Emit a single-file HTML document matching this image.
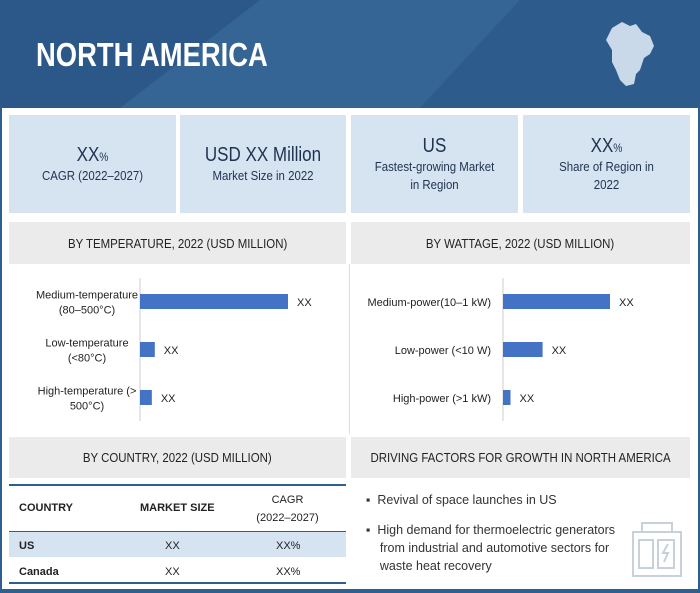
<!DOCTYPE html>
<html><head><meta charset="utf-8">
<style>
body{margin:0;width:700px;height:593px;overflow:hidden;background:#fff;font-family:"Liberation Sans Narrow","Liberation Sans",sans-serif;}
.abs{position:absolute;}
#frame{position:absolute;left:0;top:0;width:700px;height:593px;}
.card{position:absolute;top:115px;height:98px;background:#d6e3f0;text-align:center;color:#1f3250;display:flex;flex-direction:column;justify-content:center;}
.big{font-size:20px;transform:scaleX(.85);}
.sm{font-size:13px;transform:scaleX(.88);line-height:18px;}
.hdr{position:absolute;background:#ebebeb;color:#222;font-size:13px;display:flex;align-items:center;justify-content:center;}
.hdr span{transform:scaleX(.88);display:inline-block;white-space:nowrap;}
.t{position:absolute;font-size:11px;color:#222;line-height:14px;}
</style></head><body>
<div id="frame">
<svg class="abs" style="left:0;top:0" width="700" height="108">
<rect width="700" height="108" fill="#2f5f8f"/>
<polygon points="0,0 260,0 120,108 0,108" fill="#2b5889"/>
<polygon points="260,0 520,0 420,108 120,108" fill="#346595"/>
<polygon points="520,0 700,0 700,108 420,108" fill="#2d5b8c"/>
<path d="M612,28 l10,-6 8,4 6,-2 6,8 8,4 4,10 -4,8 -6,4 -4,12 -4,4 -2,10 -8,2 -6,-6 -4,-10 -4,-8 0,-12 -6,-10z" fill="#c9d9ea"/>
</svg>
<div class="abs" style="left:36px;top:36px;color:#fff;font-size:33px;font-weight:bold;transform:scaleX(.83);transform-origin:left;">NORTH AMERICA</div>
<div class="abs" style="left:0;top:106px;width:2px;height:487px;background:#2f5f8f"></div>
<div class="abs" style="left:698px;top:106px;width:2px;height:487px;background:#2f5f8f"></div>
<div class="abs" style="left:0;top:589px;width:700px;height:4px;background:#2f5f8f"></div>

<div class="card" style="left:9px;width:167px"><div class="big">XX<span style="font-size:12px">%</span></div><div class="sm">CAGR (2022–2027)</div></div>
<div class="card" style="left:180px;width:166px"><div class="big">USD XX Million</div><div class="sm">Market Size in 2022</div></div>
<div class="card" style="left:351px;width:167px"><div class="big">US</div><div class="sm">Fastest-growing Market<br>in Region</div></div>
<div class="card" style="left:523px;width:167px"><div class="big">XX<span style="font-size:12px">%</span></div><div class="sm">Share of Region in<br>2022</div></div>

<div class="hdr" style="left:9px;top:222px;width:337px;height:42px"><span>BY TEMPERATURE, 2022 (USD MILLION)</span></div>
<div class="hdr" style="left:351px;top:222px;width:339px;height:42px"><span>BY WATTAGE, 2022 (USD MILLION)</span></div>
<div class="abs" style="left:349px;top:264px;width:1px;height:170px;background:#ddd"></div>

<svg id="chart" class="abs" style="left:0;top:264px" width="700" height="170"></svg>

<div class="hdr" style="left:9px;top:437px;width:337px;height:41px"><span>BY COUNTRY, 2022 (USD MILLION)</span></div>
<div class="hdr" style="left:351px;top:437px;width:339px;height:41px"><span>DRIVING FACTORS FOR GROWTH IN NORTH AMERICA</span></div>

<div>
<div class="abs" style="left:9px;top:484px;width:337px;height:2px;background:#2f5f8f"></div>
<div class="abs" style="left:9px;top:531px;width:337px;height:1px;background:#2f5f8f"></div>
<div class="abs" style="left:9px;top:532px;width:337px;height:25px;background:#d6e3f0"></div>
<div class="abs" style="left:9px;top:582px;width:337px;height:2px;background:#2f5f8f"></div>
<div class="t" style="left:19px;top:501px;font-weight:bold">COUNTRY</div>
<div class="t" style="left:140px;top:501px;font-weight:bold">MARKET SIZE</div>
<div class="t" style="left:250px;top:491px;width:75px;text-align:center;line-height:18px">CAGR<br>(2022–2027)</div>
<div class="t" style="left:19px;top:539px;font-weight:bold">US</div>
<div class="t" style="left:165px;top:539px">XX</div>
<div class="t" style="left:276px;top:539px">XX%</div>
<div class="t" style="left:19px;top:565px;font-weight:bold">Canada</div>
<div class="t" style="left:165px;top:565px">XX</div>
<div class="t" style="left:276px;top:565px">XX%</div>
</div>

<div class="abs" style="left:366px;top:491px;font-size:12.5px;color:#333;line-height:18px">
<div>▪&nbsp; Revival of space launches in US</div>
<div style="margin-top:12px">▪&nbsp; High demand for thermoelectric generators<br>&nbsp;&nbsp;&nbsp; from industrial and automotive sectors for<br>&nbsp;&nbsp;&nbsp; waste heat recovery</div>
</div>
<svg class="abs" style="left:630px;top:520px" width="55" height="60">
<g fill="none" stroke="#c8d0dc" stroke-width="2"><rect x="3" y="12" width="48" height="44"/><rect x="12" y="3" width="30" height="9"/><rect x="9" y="20" width="14" height="28"/><rect x="28" y="20" width="16" height="28"/><path d="M38,24 l-5,9 h5 l-4,9"/></g>
</svg>
</div>
<script>
const tempCats=["Medium-temperature|(80–500°C)","Low-temperature|(<80°C)","High-temperature  (>|500°C)"];
const tempVals=[100,10,8];
const wattCats=["Medium-power(10–1 kW)","Low-power (<10 W)","High-power  (>1 kW)"];
const wattVals=[100,37,7];
const valueLabels=["XX","XX","XX"];
const svg=document.getElementById('chart');
const NS="http://www.w3.org/2000/svg";
function draw(cats,vals,axisX,maxW,name){
  const x=v=>axisX+v/100*maxW;
  const y=i=>30+i*48;
  const ax=document.createElementNS(NS,'line');
  
  
  ax.setAttribute('x1',axisX);ax.setAttribute('x2',axisX);ax.setAttribute('y1',14);ax.setAttribute('y2',157);
  ax.setAttribute('stroke','#ccc');svg.appendChild(ax);
  cats.forEach((c,i)=>{
    const r=document.createElementNS(NS,'rect');
    
    
    r.setAttribute('x',axisX);r.setAttribute('y',y(i));r.setAttribute('width',x(vals[i])-axisX);r.setAttribute('height',15);
    r.setAttribute('fill','#4472c4');svg.appendChild(r);
    const v=document.createElementNS(NS,'text');
    
    
    v.setAttribute('x',x(vals[i])+9);v.setAttribute('y',y(i)+12);v.setAttribute('font-size','11');v.setAttribute('fill','#222');
    v.textContent=valueLabels[i];svg.appendChild(v);
    const lines=c.split('|');
    lines.forEach((l,k)=>{
      const t=document.createElementNS(NS,'text');
      
      
      const cy=y(i)+12+(k-(lines.length-1)/2)*15;
      t.setAttribute('x',lines.length>1?axisX-53:axisX-12);t.setAttribute('y',cy);
      t.setAttribute('text-anchor',lines.length>1?'middle':'end');
      t.setAttribute('font-size','11');t.setAttribute('fill','#222');t.setAttribute('font-family','Liberation Sans, sans-serif');
      t.textContent=l;svg.appendChild(t);
    });
  });
}
draw(tempCats,tempVals,140,148,'temperature');
draw(wattCats,wattVals,503,107,'wattage');
</script>
</body></html>
